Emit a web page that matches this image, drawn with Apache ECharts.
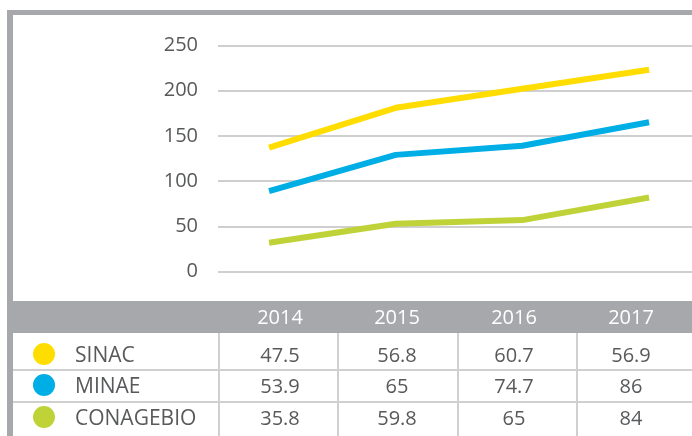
<!DOCTYPE html>
<html>
<head>
<meta charset="utf-8">
<script src="https://cdn.jsdelivr.net/npm/echarts@6/dist/echarts.min.js"></script>
<style>
html, body { margin: 0; padding: 0; background: #fff; }
#main { width: 692px; height: 436px; }
</style>
</head>
<body>
<div id="main"></div>
<script>
var years = [2014, 2015, 2016, 2017];
var names = ['SINAC', 'MINAE', 'CONAGEBIO'];
var colors = ['#ffdd00', '#00aee6', '#bfd339'];

// valores de la tabla
var sinacVals = [47.5, 56.8, 60.7, 56.9];
var minaeVals = [53.9, 65, 74.7, 86];
var conagebioVals = [35.8, 59.8, 65, 84];

// niveles de las lineas tal como se dibujan (acumulados)
var sinacLine = [137, 181, 202, 223];
var minaeLine = [89, 129, 139, 165];
var conagebioLine = [32, 53, 57, 82];

var yTicks = [0, 50, 100, 150, 200, 250];

var tableVals = [sinacVals, minaeVals, conagebioVals];
var lineVals = [sinacLine, minaeLine, conagebioLine];

var FONT = '"Open Sans", sans-serif';
var GRAY = '#a7a8ab';
var RULE = '#d0d0d0';
var TXT = '#58595b';

var chart = echarts.init(document.getElementById('main'));

function pairs(vals) {
	var out = [];
	for (var i = 0; i < years.length; i++) {
		out.push([years[i], vals[i]]);
	}
	return out;
}

var series = [];
for (var s = 0; s < names.length; s++) {
	series.push({
		name: names[s],
		type: 'line',
		symbol: 'none',
		silent: true,
		lineStyle: { width: 6, color: colors[s], cap: 'butt' },
		data: pairs(lineVals[s])
	});
}

// tabla inferior
var colX = [280, 397, 514, 631];
var rowY = [356, 387, 419];
var g = [];
// marco
g.push({ type: 'rect', shape: { x: 7, y: 10, width: 685, height: 5 }, style: { fill: GRAY } });
g.push({ type: 'rect', shape: { x: 7, y: 10, width: 6, height: 426 }, style: { fill: GRAY } });
// encabezado
g.push({ type: 'rect', shape: { x: 7, y: 301, width: 685, height: 32 }, style: { fill: GRAY } });
for (var c = 0; c < years.length; c++) {
	g.push({
		type: 'text',
		style: { text: String(years[c]), x: colX[c], y: 318, align: 'center', verticalAlign: 'middle', fill: '#fff', font: '20px ' + FONT }
	});
}
// lineas de filas
var hLines = [370, 402];
for (var h = 0; h < hLines.length; h++) {
	g.push({ type: 'line', shape: { x1: 13, y1: hLines[h], x2: 692, y2: hLines[h] }, style: { stroke: RULE, lineWidth: 2 } });
}
var vLines = [219, 338, 458, 577];
for (var v = 0; v < vLines.length; v++) {
	g.push({ type: 'line', shape: { x1: vLines[v], y1: 333, x2: vLines[v], y2: 436 }, style: { stroke: RULE, lineWidth: 2 } });
}
// filas
for (var r = 0; r < names.length; r++) {
	g.push({ type: 'circle', shape: { cx: 44, cy: rowY[r] - 2, r: 11 }, style: { fill: colors[r] } });
	g.push({
		type: 'text',
		style: { text: names[r], x: 75, y: rowY[r], align: 'left', verticalAlign: 'middle', fill: TXT, font: '21px ' + FONT }
	});
	for (var c = 0; c < years.length; c++) {
		g.push({
			type: 'text',
			style: { text: String(tableVals[r][c]), x: colX[c], y: rowY[r], align: 'center', verticalAlign: 'middle', fill: TXT, font: '20px ' + FONT }
		});
	}
}

chart.setOption({
	animation: false,
	backgroundColor: '#fff',
	grid: { left: 218, right: 0, top: 45.3, bottom: 164.3 },
	xAxis: {
		type: 'value',
		min: 2013.597,
		max: 2017.339,
		show: false
	},
	yAxis: {
		type: 'value',
		min: yTicks[0],
		max: yTicks[yTicks.length - 1],
		interval: 50,
		axisLine: { show: false },
		axisTick: { show: false },
		axisLabel: { margin: 20, fontSize: 20, color: TXT, fontFamily: FONT },
		splitLine: { lineStyle: { color: '#cfcfcf', width: 2 } }
	},
	series: series,
	graphic: g
});
</script>
</body>
</html>
